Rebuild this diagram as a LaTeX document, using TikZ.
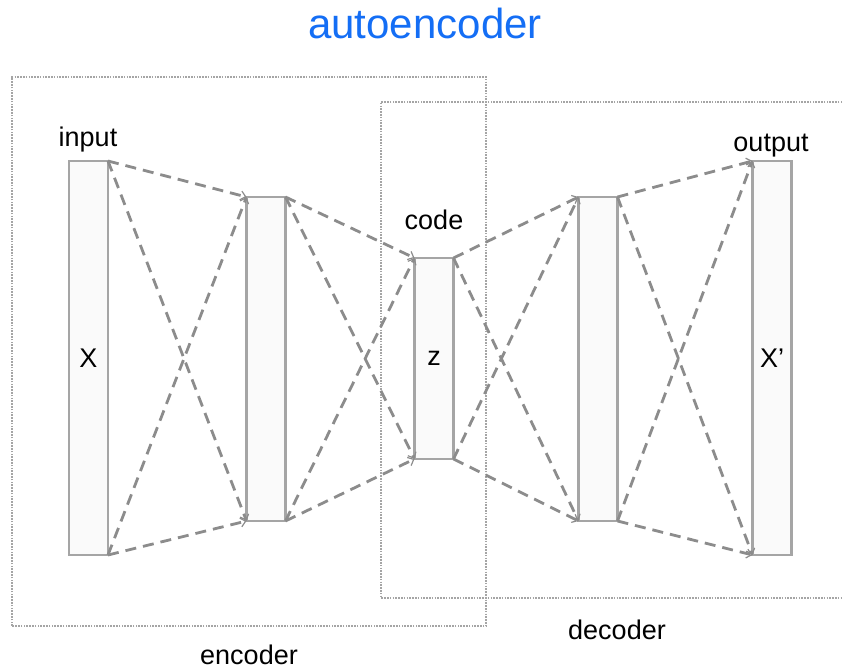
\documentclass[tikz,border=0pt]{standalone}
\usepackage{fontspec}
\setmainfont{Liberation Sans}
\usetikzlibrary{arrows.meta}
\definecolor{titleblue}{RGB}{20,110,245}
\definecolor{layergray}{RGB}{165,165,165}
\definecolor{dashgray}{RGB}{140,140,140}
\definecolor{boxgray}{RGB}{165,165,165}
\tikzset{
  layer/.style={draw=layergray, line width=2.2pt, fill=gray!4, minimum width=39pt,
    outer sep=0pt, inner sep=0pt, font=\fontsize{27}{31}\selectfont},
  conn/.style={draw=dashgray, line width=2.8pt, dash pattern=on 11pt off 7pt,
    -{Straight Barb[length=5pt,width=9pt,line width=1.2pt]}},
  region/.style={draw=boxgray, line width=1.3pt, dash pattern=on 1.6pt off 1.2pt},
  lbl/.style={font=\fontsize{27}{31}\selectfont, anchor=base, inner sep=0pt},
}
\begin{document}
\begin{tikzpicture}[x=1pt,y=1pt]
\useasboundingbox (0,0) rectangle (843,671);
% regions
\draw[region] (12,45) rectangle (486,594);
\draw[region] (845,569) -- (381,569) -- (381,73) -- (845,73);
% layers
\node[layer, minimum height=394pt] (l1) at (88.5,313) {X};
\node[layer, minimum height=324pt] (l2) at (266,312) {};
\node[layer, minimum height=201pt] (l3) at (434,312.5) {z};
\node[layer, minimum height=324pt] (l4) at (598,312) {};
\node[layer, minimum height=394pt] (l5) at (772,313) {X'};
% connections
\foreach \a/\b in {l1/l2,l2/l3,l3/l4,l4/l5}{
  \draw[conn] (\a.north east) -- (\b.north west);
  \draw[conn] (\a.north east) -- (\b.south west);
  \draw[conn] (\a.south east) -- (\b.north west);
  \draw[conn] (\a.south east) -- (\b.south west);
}
% labels
\node[lbl] (tin) at (88,524) {input};
\node[lbl] (tcode) at (434,441) {code};
\node[lbl] (tout) at (771,519) {output};
\node[lbl] (tdec) at (617,31) {decoder};
\node[lbl] (tenc) at (249,6) {encoder};
\node[lbl, font=\fontsize{42}{46}\selectfont, text=titleblue] (title) at (425,632) {autoencoder};
\end{tikzpicture}
\end{document}
